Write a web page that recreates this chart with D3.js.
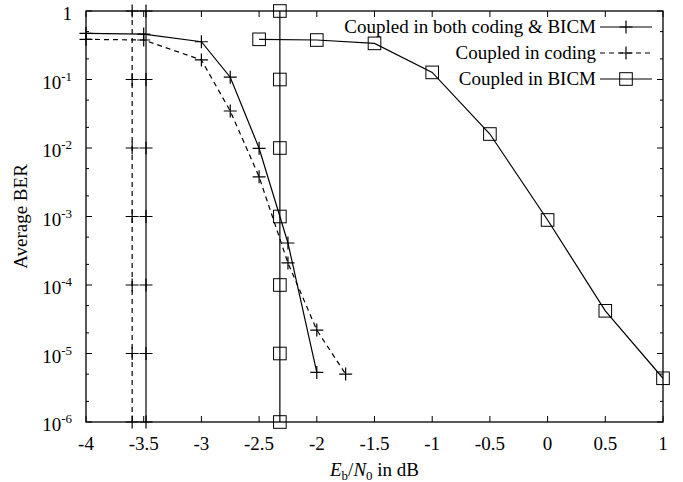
<!DOCTYPE html>
<html>
<head>
<meta charset="utf-8">
<script src="https://cdn.jsdelivr.net/npm/d3@7"></script>
<style>
    body { margin: 0; background: #fff; }
    svg { display: block; }
    text { font-family: "Liberation Serif", "Times New Roman", serif; fill: #000; }
</style>
</head>
<body>
<div id="chart"></div>
<script>
(function() {
    var W = 683, H = 482;
    var margin = {left: 86, top: 11, right: 20, bottom: 60};

    // Coupled in both coding & BICM
    var snrBoth = [-4, -3.5, -3, -2.75, -2.5, -2.25, -2];
    var berBoth = [0.47, 0.46, 0.356, 0.108, 0.0099, 4.1e-4, 5.3e-6];

    // Coupled in coding
    var snrCoding = [-4, -3.5, -3, -2.75, -2.5, -2.25, -2, -1.75];
    var berCoding = [0.386, 0.377, 0.193, 0.0347, 0.0038, 2.1e-4, 2.2e-5, 5.0e-6];

    // Coupled in BICM
    var snrBicm = [-2.5, -2, -1.5, -1, -0.5, 0, 0.5, 1];
    var berBicm = [0.386, 0.377, 0.337, 0.127, 0.016, 8.9e-4, 4.2e-5, 4.35e-6];

    // thresholds drawn as vertical lines
    var thrBoth = -3.48, thrCoding = -3.6, thrBicm = -2.32;
    var thrLevels = [1, 1e-1, 1e-2, 1e-3, 1e-4, 1e-5, 1e-6];

    var xTicks = [-4, -3.5, -3, -2.5, -2, -1.5, -1, -0.5, 0, 0.5, 1];
    var yExps = [0, -1, -2, -3, -4, -5, -6];

    var seriesNames = ["Coupled in both coding & BICM", "Coupled in coding", "Coupled in BICM"];

    var width = W - margin.left - margin.right,
        height = H - margin.top - margin.bottom;

    var xScale = d3.scaleLinear().domain([-4, 1]).range([0, width]);
    var yScale = d3.scaleLog().domain([1e-6, 1]).range([height, 0]);

    var svg = d3.select("#chart").append("svg")
        .attr("width", W).attr("height", H);

    var g = svg.append("g")
        .attr("transform", "translate(" + margin.left + "," + margin.top + ")");

    // ticks (inward, all four sides)
    var minorY = [];
    yExps.forEach(function(e) {
        if (e > -6) {
            minorY.push(5 * Math.pow(10, e - 1));
            minorY.push(2 * Math.pow(10, e - 1));
        }
    });

    var ticks = g.append("g").attr("stroke", "#000").attr("stroke-width", 1);
    xTicks.forEach(function(t) {
        var x = xScale(t);
        ticks.append("line").attr("x1", x).attr("x2", x).attr("y1", height).attr("y2", height - 6);
        ticks.append("line").attr("x1", x).attr("x2", x).attr("y1", 0).attr("y2", 6);
    });
    yExps.forEach(function(e) {
        var y = yScale(Math.pow(10, e));
        ticks.append("line").attr("x1", 0).attr("x2", 6).attr("y1", y).attr("y2", y);
        ticks.append("line").attr("x1", width).attr("x2", width - 6).attr("y1", y).attr("y2", y);
    });
    minorY.forEach(function(v) {
        var y = yScale(v);
        ticks.append("line").attr("x1", 0).attr("x2", 3).attr("y1", y).attr("y2", y);
        ticks.append("line").attr("x1", width).attr("x2", width - 3).attr("y1", y).attr("y2", y);
    });

    // x tick labels
    g.append("g").selectAll("text")
        .data(xTicks).enter().append("text")
        .attr("x", function(d) { return xScale(d); })
        .attr("y", height + 28)
        .attr("text-anchor", "middle")
        .style("font-size", "19px")
        .text(function(d) { return d; });

    // y tick labels
    var yl = g.append("g").selectAll("text")
        .data(yExps).enter().append("text")
        .attr("x", -14)
        .attr("y", function(d) { return yScale(Math.pow(10, d)) + 9; })
        .attr("text-anchor", "end")
        .style("font-size", "19px");
    yl.each(function(d) {
        var t = d3.select(this);
        if (d === 0) {
            t.text("1");
        } else {
            t.append("tspan").text("10");
            t.append("tspan").attr("dy", -8).style("font-size", "13px").text(String(d).replace("-", "-"));
        }
    });

    // axis titles
    svg.append("text")
        .attr("transform", "translate(27," + (margin.top + height / 2) + ") rotate(-90)")
        .attr("text-anchor", "middle")
        .style("font-size", "19px")
        .text("Average BER");

    var xt = svg.append("text")
        .attr("x", margin.left + width / 2)
        .attr("y", H - 6)
        .attr("text-anchor", "middle")
        .style("font-size", "19px");
    xt.append("tspan").style("font-style", "italic").text("E");
    xt.append("tspan").attr("dy", 4).style("font-size", "13px").text("b");
    xt.append("tspan").attr("dy", -4).text("/");
    xt.append("tspan").style("font-style", "italic").text("N");
    xt.append("tspan").attr("dy", 4).style("font-size", "13px").text("0");
    xt.append("tspan").attr("dy", -4).text(" in dB");

    var line = d3.line()
        .x(function(d) { return xScale(d[0]); })
        .y(function(d) { return yScale(d[1]); });

    function zip(xs, ys) { return xs.map(function(x, i) { return [x, ys[i]]; }); }
    function vert(x) { return thrLevels.map(function(v) { return [x, v]; }); }

    var styles = [
        {dash: null, marker: "plus"},
        {dash: "5,4", marker: "plus"},
        {dash: null, marker: "square"}
    ];

    function drawMarker(sel, x, y, type) {
        if (type === "plus") {
            sel.append("path")
                .attr("d", "M" + (x - 6.5) + "," + y + "H" + (x + 6.5) + "M" + x + "," + (y - 6.5) + "V" + (y + 6.5))
                .attr("stroke", "#000").attr("stroke-width", 1.2).attr("fill", "none");
        } else {
            sel.append("rect")
                .attr("x", x - 6.3).attr("y", y - 6.3)
                .attr("width", 12.6).attr("height", 12.6)
                .attr("stroke", "#000").attr("stroke-width", 1).attr("fill", "none");
        }
    }

    function drawSeries(data, st) {
        var s = g.append("g");
        s.append("path")
            .datum(data)
            .attr("d", line)
            .attr("fill", "none")
            .attr("stroke", "#000")
            .attr("stroke-width", 1.2)
            .attr("stroke-dasharray", st.dash);
        data.forEach(function(d) {
            drawMarker(s, xScale(d[0]), yScale(d[1]), st.marker);
        });
    }

    drawSeries(zip(snrBoth, berBoth), styles[0]);
    drawSeries(zip(snrCoding, berCoding), styles[1]);
    drawSeries(zip(snrBicm, berBicm), styles[2]);
    drawSeries(vert(thrBoth), styles[0]);
    drawSeries(vert(thrCoding), styles[1]);
    drawSeries(vert(thrBicm), styles[2]);

    // frame
    g.append("rect")
        .attr("width", width).attr("height", height)
        .attr("fill", "none").attr("stroke", "#000").attr("stroke-width", 1.3);

    // legend
    var leg = svg.append("g");
    seriesNames.forEach(function(name, i) {
        var cy = 27 + i * 26;
        leg.append("text")
            .attr("x", 596).attr("y", cy + 6)
            .attr("text-anchor", "end")
            .style("font-size", "19px")
            .text(name);
        leg.append("line")
            .attr("x1", 600).attr("x2", 652).attr("y1", cy).attr("y2", cy)
            .attr("stroke", "#000").attr("stroke-width", 1.2)
            .attr("stroke-dasharray", styles[i].dash);
        drawMarker(leg, 626, cy, styles[i].marker);
    });
})();
</script>
</body>
</html>
